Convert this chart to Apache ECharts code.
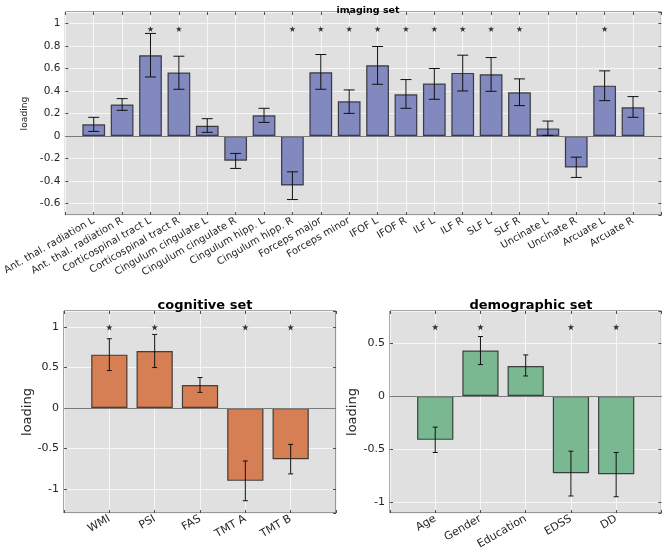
<!DOCTYPE html>
<html><head><meta charset="utf-8">
<script src="https://cdn.jsdelivr.net/npm/echarts@6/dist/echarts.min.js"></script>
<style>html,body{margin:0;padding:0;background:#fff}#c{width:664px;height:556px}</style>
</head><body><div id="c"></div>
<script>
// ---------- data ----------
const imgCats = ['Ant. thal. radiation L','Ant. thal. radiation R','Corticospinal tract L','Corticospinal tract R',
  'Cingulum cingulate L','Cingulum cingulate R','Cingulum hipp. L','Cingulum hipp. R','Forceps major','Forceps minor',
  'IFOF L','IFOF R','ILF L','ILF R','SLF L','SLF R','Uncinate L','Uncinate R','Arcuate L','Arcuate R'];
const imgVals    = [0.104,0.279,0.717,0.563,0.092,-0.219,0.184,-0.439,0.566,0.308,0.628,0.370,0.465,0.560,0.548,0.388,0.068,-0.279,0.447,0.255];
const imgErrLow  = [0.041,0.228,0.524,0.415,0.033,-0.287,0.121,-0.563,0.415,0.201,0.459,0.246,0.326,0.400,0.397,0.270,0.006,-0.367,0.314,0.166];
const imgErrHigh = [0.166,0.332,0.910,0.708,0.154,-0.154,0.246,-0.317,0.723,0.409,0.794,0.501,0.599,0.717,0.696,0.507,0.133,-0.187,0.578,0.350];
const imgSig     = [0,0,1,1,0,0,0,1,1,1,1,1,1,1,1,1,0,0,1,0];
const imgStarY   = 0.95;

const cogCats    = ['WMI','PSI','FAS','TMT A','TMT B'];
const cogVals    = [0.660,0.705,0.283,-0.902,-0.635];
const cogErrLow  = [0.463,0.500,0.193,-1.148,-0.816];
const cogErrHigh = [0.857,0.910,0.377,-0.656,-0.451];
const cogSig     = [1,1,0,1,1];
const cogStarY   = 1.0;

const demCats    = ['Age','Gender','Education','EDSS','DD'];
const demVals    = [-0.412,0.428,0.283,-0.726,-0.736];
const demErrLow  = [-0.531,0.296,0.189,-0.940,-0.947];
const demErrHigh = [-0.292,0.560,0.387,-0.519,-0.531];
const demSig     = [1,1,0,1,1];
const demStarY   = 0.65;

// ---------- styling / layout ----------
const FONT = 'DejaVu Sans';
const STAR = 'path://M50,0 L61,35 L98,35 L68,57 L79,91 L50,70 L21,91 L32,57 L2,35 L39,35 Z';
const panels = [
  {title:'imaging set', cats:imgCats, vals:imgVals, lo:imgErrLow, hi:imgErrHigh, sig:imgSig, starY:imgStarY,
   color:'#8189bf', grid:{left:64, top:12, width:598, height:203}, ymin:-0.7, ymax:1.1, split:9,
   tickFs:10.5, xFs:10, nameFs:9.2, nameGap:28, titleFs:9.5, titleTop:1, cap:5.5, star:6},
  {title:'cognitive set', cats:cogCats, vals:cogVals, lo:cogErrLow, hi:cogErrHigh, sig:cogSig, starY:cogStarY,
   color:'#d67f55', grid:{left:64, top:311, width:272, height:202}, ymin:-1.3, ymax:1.2, split:5,
   tickFs:11, xFs:11, nameFs:13, nameGap:30, titleFs:13, titleTop:294, cap:2.5, star:6.5},
  {title:'demographic set', cats:demCats, vals:demVals, lo:demErrLow, hi:demErrHigh, sig:demSig, starY:demStarY,
   color:'#7ab892', grid:{left:390, top:311, width:272, height:202}, ymin:-1.1, ymax:0.8, split:4,
   tickFs:11, xFs:11, nameFs:13, nameGap:30.5, titleFs:13, titleTop:294, cap:2.5, star:6.5}
];

const option = {backgroundColor:'#fff', animation:false, title:[], grid:[], xAxis:[], yAxis:[], series:[]};
const tick = () => ({show:true, inside:true, length:3, lineStyle:{color:'#4d4d4d', width:1}});
const split = () => ({show:true, lineStyle:{color:'#f6f6f6', width:1}});
const noLine = () => ({show:false, onZero:false});

panels.forEach((p, i) => {
  const n = p.cats.length;
  option.grid.push(Object.assign({show:true, backgroundColor:'#e0e0e0', borderColor:'#4d4d4d', borderWidth:1}, p.grid));
  option.title.push({text:p.title, left:p.grid.left + p.grid.width/2, top:p.titleTop, textAlign:'center',
    textStyle:{fontFamily:FONT, fontWeight:'bold', fontSize:p.titleFs, color:'#000'}});
  const xi = option.xAxis.length, yi = option.yAxis.length;
  option.xAxis.push({type:'value', gridIndex:i, position:'bottom', min:0, max:n+1, interval:1,
    axisLine:noLine(), axisTick:tick(), splitLine:split(),
    axisLabel:{rotate:30, margin:5, fontFamily:FONT, fontSize:p.xFs, color:'#262626',
      formatter: v => p.cats[Math.round(v)-1] || ''}});
  option.xAxis.push({type:'value', gridIndex:i, position:'top', min:0, max:n+1, interval:1,
    axisLine:noLine(), axisTick:tick(), splitLine:{show:false}, axisLabel:{show:false}});
  option.yAxis.push({type:'value', gridIndex:i, position:'left', min:p.ymin, max:p.ymax, splitNumber:p.split,
    axisLine:noLine(), axisTick:tick(), splitLine:split(),
    name:'loading', nameLocation:'middle', nameGap:p.nameGap,
    nameTextStyle:{fontFamily:FONT, fontSize:p.nameFs, color:'#262626'},
    axisLabel:{showMinLabel:false, showMaxLabel:false, margin:5, fontFamily:FONT, fontSize:p.tickFs, color:'#262626'}});
  option.yAxis.push({type:'value', gridIndex:i, position:'right', min:p.ymin, max:p.ymax, splitNumber:p.split,
    axisLine:noLine(), axisTick:tick(), splitLine:{show:false}, axisLabel:{show:false}});

  const barW = p.grid.width/(n+1)*0.8;
  option.series.push({type:'bar', xAxisIndex:xi, yAxisIndex:yi, barWidth:barW, z:2,
    data:p.vals.map((v,k)=>[k+1, v]),
    itemStyle:{color:p.color, borderColor:'rgba(20,20,20,0.75)', borderWidth:1.2},
    markLine:{silent:true, symbol:'none', label:{show:false},
      lineStyle:{color:'#7a7a7a', type:'solid', width:1}, data:[{yAxis:0}]}});
  option.series.push({type:'custom', xAxisIndex:xi, yAxisIndex:yi, z:3,
    data:p.vals.map((v,k)=>[k+1, p.lo[k], p.hi[k]]),
    encode:{x:0, y:[1,2]},
    renderItem:(params, api) => {
      const a = api.coord([api.value(0), api.value(1)]);
      const b = api.coord([api.value(0), api.value(2)]);
      const st = {stroke:'#111', lineWidth:1};
      return {type:'group', children:[
        {type:'line', shape:{x1:a[0], y1:a[1], x2:b[0], y2:b[1]}, style:st},
        {type:'line', shape:{x1:a[0]-p.cap, y1:a[1], x2:a[0]+p.cap, y2:a[1]}, style:st},
        {type:'line', shape:{x1:b[0]-p.cap, y1:b[1], x2:b[0]+p.cap, y2:b[1]}, style:st}
      ]};
    }});
  option.series.push({type:'scatter', xAxisIndex:xi, yAxisIndex:yi, z:4, symbol:STAR, symbolSize:p.star,
    itemStyle:{color:'#000'},
    data:p.sig.map((s,k)=> s ? [k+1, p.starY] : null).filter(d=>d)});
});

const chart = echarts.init(document.getElementById('c'), null, {renderer:'canvas'});
chart.setOption(option);
</script></body></html>
